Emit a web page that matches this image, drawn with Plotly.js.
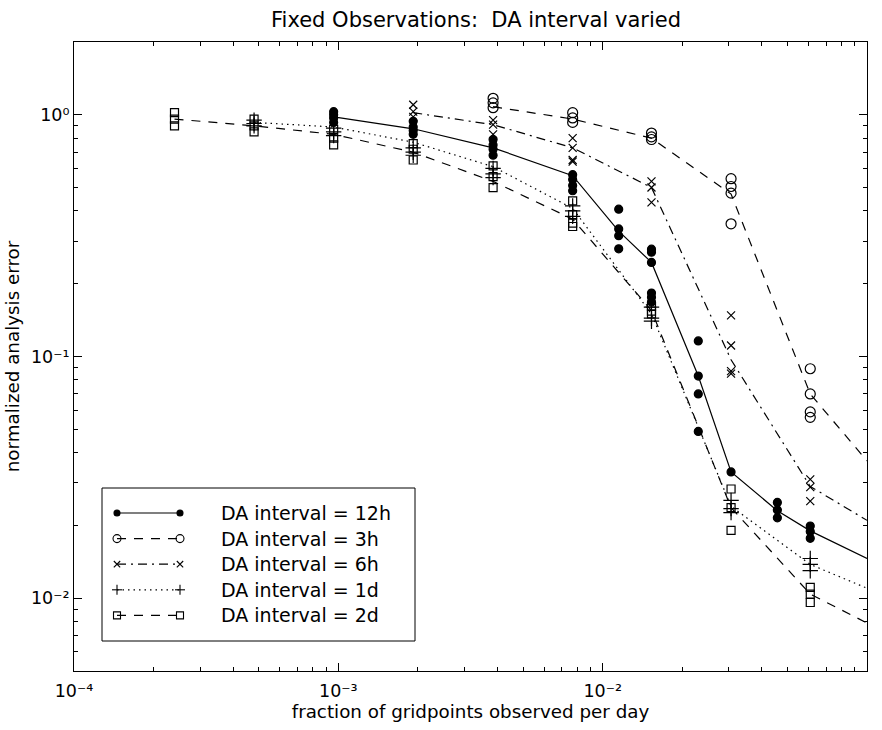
<!DOCTYPE html>
<html>
<head>
<meta charset="utf-8">
<script src="https://cdn.plot.ly/plotly-3.0.1.min.js"></script>
<style>html,body{margin:0;padding:0;background:#fff}#chart{width:882px;height:730px}</style>
</head>
<body>
<div id="chart"></div>
<script>
// ---------------- data ----------------
// 12h : filled dots, solid line
const x12h = [0.00096,0.00096,0.00096,0.00096, 0.00192,0.00192,0.00192,0.00192, 0.00385,0.00385,0.00385,0.00385,
              0.0077,0.0077,0.0077,0.0077, 0.0115,0.0115,0.0115,0.0115, 0.0153,0.0153,0.0153,0.0153,0.0153,0.0153,
              0.023,0.023,0.023,0.023, 0.0306, 0.0458,0.0458,0.0458, 0.061,0.061,0.061];
const y12h = [1.03,1.0,0.97,0.93, 0.94,0.89,0.86,0.83, 0.79,0.75,0.72,0.68,
              0.565,0.54,0.51,0.485, 0.407,0.337,0.316,0.279, 0.278,0.27,0.245,0.183,0.176,0.168,
              0.116,0.083,0.070,0.049, 0.0333, 0.0249,0.0232,0.0215, 0.0199,0.0189,0.0177];
const line12hX = [0.00096,0.00192,0.00385,0.0077,0.0115,0.0153,0.023,0.0306,0.0458,0.061,0.1];
const line12hY = [0.98,0.875,0.73,0.56,0.33,0.245,0.083,0.0333,0.023,0.019,0.0146];

// 3h : open circles, dashed line
const x3h = [0.00385,0.00385,0.00385, 0.0077,0.0077,0.0077, 0.0153,0.0153,0.0153,
             0.0306,0.0306,0.0306,0.0306, 0.061,0.061,0.061,0.061];
const y3h = [1.17,1.12,1.07, 1.02,0.97,0.93, 0.84,0.81,0.79,
             0.544,0.505,0.474,0.354, 0.089,0.070,0.059,0.056];
const line3hX = [0.00385,0.0077,0.0153,0.0306,0.061,0.1];
const line3hY = [1.08,0.96,0.80,0.47,0.07,0.037];

// 6h : crosses (x), dash-dot line
const x6h = [0.00192,0.00192,0.00192, 0.00385,0.00385,0.00385, 0.0077,0.0077,0.0077,0.0077,
             0.0153,0.0153,0.0153, 0.0306,0.0306,0.0306,0.0306, 0.061,0.061,0.061];
const y6h = [1.10,1.03,0.98, 0.95,0.91,0.83, 0.80,0.73,0.65,0.64,
             0.53,0.50,0.434, 0.148,0.111,0.087,0.085, 0.031,0.0288,0.0252];
const line6hX = [0.00192,0.00385,0.0077,0.0153,0.0306,0.061,0.1];
const line6hY = [1.02,0.91,0.73,0.50,0.097,0.029,0.021];

// 1d : plus, dotted line
const x1d = [0.00048,0.00048,0.00048, 0.00096,0.00096,0.00096, 0.00192,0.00192,0.00192,
             0.00385,0.00385,0.00385, 0.0077,0.0077,0.0077, 0.0153,0.0153,0.0153,
             0.0306,0.0306,0.0306, 0.061,0.061,0.061];
const y1d = [0.95,0.92,0.90, 0.88,0.85,0.82, 0.73,0.70,0.68,
             0.60,0.57,0.55, 0.42,0.40,0.38, 0.16,0.144,0.14,
             0.0254,0.0235,0.0226, 0.0146,0.0138,0.013];
const line1dX = [0.00048,0.00096,0.00192,0.00385,0.0077,0.0153,0.0306,0.061,0.1];
const line1dY = [0.93,0.89,0.77,0.61,0.41,0.15,0.024,0.0138,0.011];

// 2d : open squares, dashed line
const x2d = [0.00024,0.00024,0.00024, 0.00048,0.00048,0.00048, 0.00096,0.00096,0.00096,
             0.00192,0.00192,0.00192, 0.00385,0.00385,0.00385, 0.0077,0.0077,0.0077,0.0077,
             0.0153,0.0153,0.0153, 0.0306,0.0306,0.0306, 0.061,0.061,0.061];
const y2d = [1.02,0.96,0.90, 0.96,0.90,0.85, 0.87,0.80,0.75,
             0.76,0.72,0.65, 0.615,0.555,0.50, 0.44,0.386,0.356,0.345,
             0.161,0.154,0.15, 0.0283,0.0237,0.0191, 0.0111,0.0104,0.0096];
const line2dX = [0.00024,0.00048,0.00096,0.00192,0.00385,0.0077,0.0153,0.0306,0.061,0.1];
const line2dY = [0.96,0.90,0.83,0.70,0.53,0.37,0.155,0.0237,0.0104,0.0079];

const seriesNames = ['DA interval = 12h','DA interval = 3h','DA interval = 6h','DA interval = 1d','DA interval = 2d'];
const xTickVals = [1e-4,1e-3,1e-2,1e-1];
const xTickText = ['10\u207B\u2074','10\u207B\u00B3','10\u207B\u00B2','10\u207B\u00B9'];
const yTickVals = [1e-2,1e-1,1];
const yTickText = ['10\u207B\u00B2','10\u207B\u00B9','10\u2070'];

// ---------------- styles ----------------
const FONT = 'DejaVu Sans, Liberation Sans, Arial, sans-serif';
const K = '#000';
const styles = [
  {dash:'solid',            sym:'circle',            size:8},
  {dash:'9px,8px',          sym:'circle-open',       size:10},
  {dash:'9px,5px,2px,5px',  sym:'x-thin-open',       size:8},
  {dash:'1.5px,4px',        sym:'cross-thin-open',   size:11},
  {dash:'9px,8px',          sym:'square-open',       size:8}
];
const markerSets = [[x12h,y12h],[x3h,y3h],[x6h,y6h],[x1d,y1d],[x2d,y2d]];
const lineSets = [[line12hX,line12hY],[line3hX,line3hY],[line6hX,line6hY],[line1dX,line1dY],[line2dX,line2dY]];

const traces = [];
lineSets.forEach((ls,i)=>{
  traces.push({x:ls[0], y:ls[1], mode:'lines', type:'scatter', showlegend:false, hoverinfo:'skip',
    line:{color:K, width:1.2, dash:styles[i].dash}});
});
markerSets.forEach((ms,i)=>{
  traces.push({x:ms[0], y:ms[1], mode:'markers', type:'scatter', showlegend:false, name:seriesNames[i],
    marker:{symbol:styles[i].sym, size:styles[i].size, color:K, line:{color:K, width:1.2}}});
});

// minor ticks 2..9 per decade
const minorX = [], minorY = [];
for (let e=-4; e<-1; e++) for (let m=2; m<10; m++) minorX.push(m*Math.pow(10,e));
for (let e=-3; e<1; e++) for (let m=2; m<10; m++) minorY.push(m*Math.pow(10,e));

// ---------------- custom legend (decoration, pixel layout) ----------------
const PL=74, PR=867, PT=42, PB=671;
const px = p => (p-PL)/(PR-PL);
const py = p => (PB-p)/(PB-PT);
const shapes = [];
const annotations = [];
shapes.push({type:'rect', xref:'paper', yref:'paper', x0:px(102), x1:px(415), y0:py(641), y1:py(488),
  line:{color:K, width:1}, fillcolor:'#fff', layer:'above'});
function mk(kind, cx, cy){
  const A = {xref:'paper', yref:'paper', layer:'above', line:{color:K, width:1.1}};
  if(kind===0){ const r=3; shapes.push(Object.assign({}, A, {type:'circle', x0:px(cx-r), x1:px(cx+r), y0:py(cy+r), y1:py(cy-r), fillcolor:K})); }
  if(kind===1){ const r=4; shapes.push(Object.assign({}, A, {type:'circle', x0:px(cx-r), x1:px(cx+r), y0:py(cy+r), y1:py(cy-r), fillcolor:'rgba(0,0,0,0)'})); }
  if(kind===2){ const r=3.2; shapes.push(Object.assign({}, A, {type:'line', x0:px(cx-r), x1:px(cx+r), y0:py(cy-r), y1:py(cy+r)}));
                shapes.push(Object.assign({}, A, {type:'line', x0:px(cx-r), x1:px(cx+r), y0:py(cy+r), y1:py(cy-r)})); }
  if(kind===3){ const r=5; shapes.push(Object.assign({}, A, {type:'line', x0:px(cx-r), x1:px(cx+r), y0:py(cy), y1:py(cy)}));
                shapes.push(Object.assign({}, A, {type:'line', x0:px(cx), x1:px(cx), y0:py(cy-r), y1:py(cy+r)})); }
  if(kind===4){ const r=3.5; shapes.push(Object.assign({}, A, {type:'rect', x0:px(cx-r), x1:px(cx+r), y0:py(cy+r), y1:py(cy-r), fillcolor:'rgba(0,0,0,0)'})); }
}
seriesNames.forEach((nm,i)=>{
  const cy = 513 + i*25.6;
  shapes.push({type:'line', xref:'paper', yref:'paper', layer:'above', x0:px(117), x1:px(180), y0:py(cy), y1:py(cy),
    line:{color:K, width:1.2, dash:styles[i].dash}});
  mk(i,117,cy); mk(i,180,cy);
  annotations.push({xref:'paper', yref:'paper', x:px(219), y:py(cy), xanchor:'left', yanchor:'middle',
    text:nm, showarrow:false, font:{family:FONT, size:19, color:K}});
});

const axisCommon = {type:'log', showline:true, linecolor:K, linewidth:1, mirror:'allticks',
  ticks:'inside', ticklen:8, tickwidth:1, tickcolor:K, showgrid:false, zeroline:false, automargin:false,
  tickmode:'array', tickfont:{family:FONT, size:17.5, color:K}};

const layout = {
  width:882, height:730,
  margin:{l:PL, r:882-PR, t:PT, b:730-PB},
  paper_bgcolor:'#fff', plot_bgcolor:'#fff',
  showlegend:false,
  font:{family:FONT, color:K},
  title:{text:'Fixed Observations:\u00a0 DA interval varied', x:476/882, xref:'container', xanchor:'center',
         y:1-20/730, yref:'container', yanchor:'middle', font:{family:FONT, size:21, color:K}},
  xaxis:Object.assign({}, axisCommon, {range:[-4,-1], tickvals:xTickVals, ticktext:xTickText, ticklabelstandoff:4,
    minor:{tickmode:'array', tickvals:minorX, ticks:'inside', ticklen:4, tickcolor:K, tickwidth:1, showgrid:false},
    title:{text:'fraction of gridpoints observed per day', font:{family:FONT, size:18.3, color:K}, standoff:5}}),
  yaxis:Object.assign({}, axisCommon, {range:[Math.log10(0.005), Math.log10(2)], tickvals:yTickVals, ticktext:yTickText,
    minor:{tickmode:'array', tickvals:minorY, ticks:'inside', ticklen:4, tickcolor:K, tickwidth:1, showgrid:false},
    title:{text:'normalized analysis error', font:{family:FONT, size:18.3, color:K}, standoff:6}}),
  shapes:shapes,
  annotations:annotations
};

Plotly.newPlot('chart', traces, layout, {displayModeBar:false});
</script>
</body>
</html>
